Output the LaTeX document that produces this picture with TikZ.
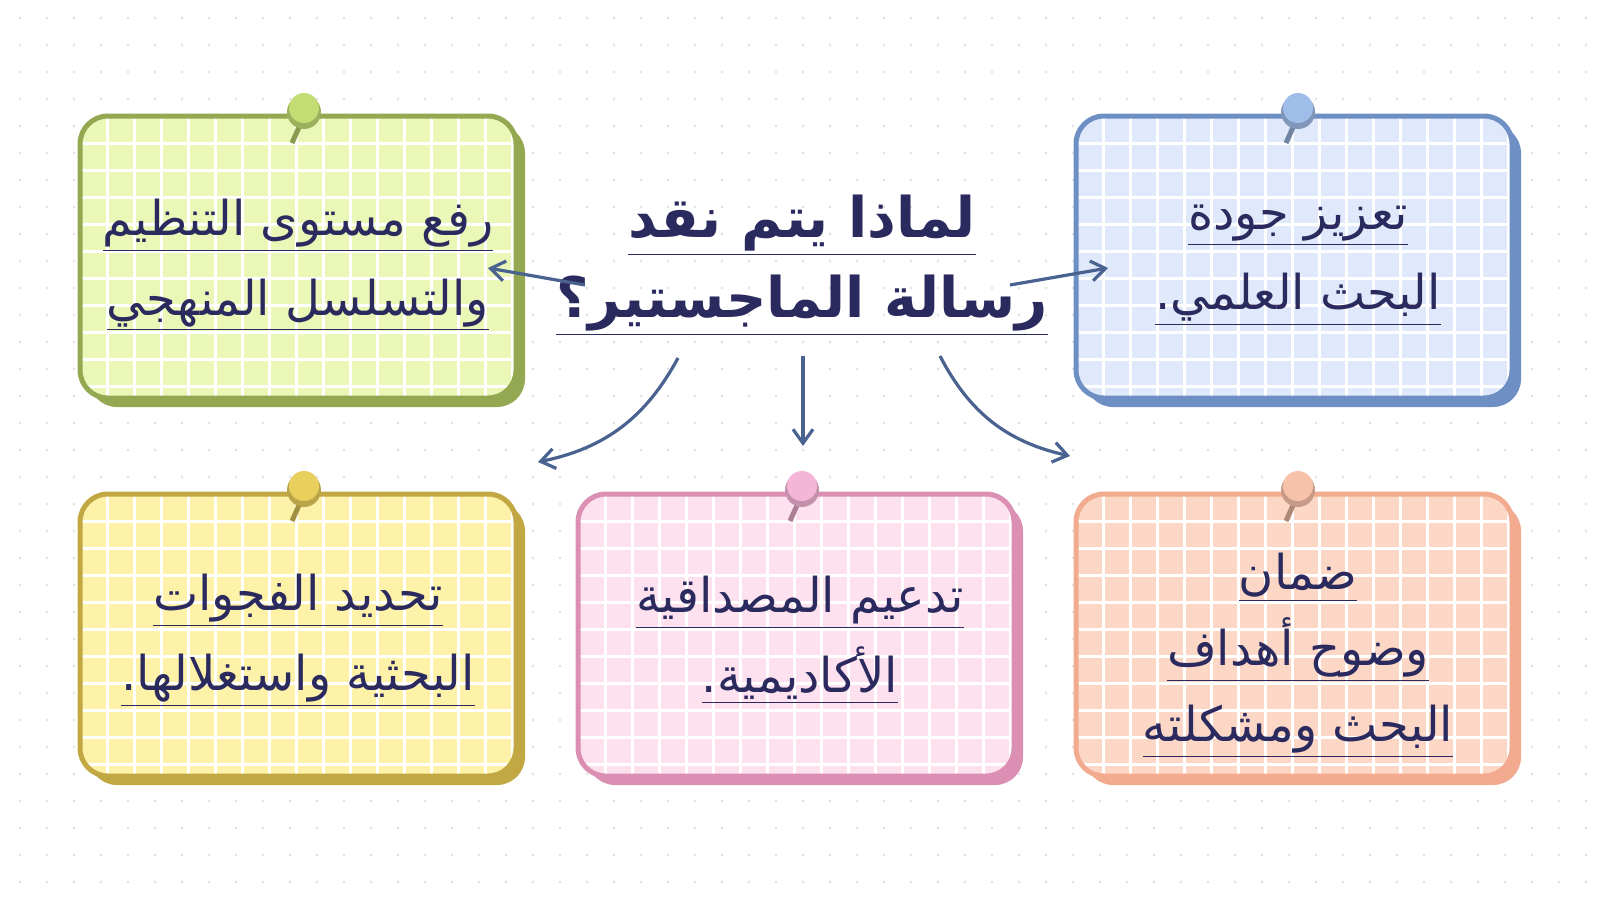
\documentclass[tikz,border=0pt]{standalone}
\usepackage{fontspec}
\newfontfamily\arabicfont[Script=Arabic]{DejaVu Sans}
\TeXXeTstate=1
\newcommand\arl[1]{\underline{\hbox{\beginR#1\endR}}}
\definecolor{ink}{HTML}{2B2A5E}
\definecolor{arr}{HTML}{4A6290}
\definecolor{gF}{HTML}{EAF7B6}\definecolor{gB}{HTML}{93A850}\definecolor{gP}{HTML}{C4DC74}
\definecolor{bF}{HTML}{DFE9FB}\definecolor{bB}{HTML}{6E8FC4}\definecolor{bP}{HTML}{A0BDE9}
\definecolor{yF}{HTML}{FDF2A8}\definecolor{yB}{HTML}{C1A843}\definecolor{yP}{HTML}{E8CF5E}
\definecolor{pF}{HTML}{FDE1EF}\definecolor{pB}{HTML}{DB90B3}\definecolor{pP}{HTML}{F5B5D6}
\definecolor{oF}{HTML}{FDD7C5}\definecolor{oB}{HTML}{F3AB8F}\definecolor{oP}{HTML}{F7C2AA}
\newcommand\mycard[7]{%
 \fill[#6,rounded corners=14] (#1+9,#2+9) rectangle (#3+9,#4+9);
 \begin{scope}
 \clip[rounded corners=14] (#1,#2) rectangle (#3,#4);
 \fill[#5] (#1,#2) rectangle (#3,#4);
 \foreach \k in {0,...,20}{\draw[white,line width=1.5] (#1+27*\k,#2) -- (#1+27*\k,#4);
   \draw[white,line width=1.5] (#1,#2+27*\k) -- (#3,#2+27*\k);}
 \end{scope}
 \draw[#6,line width=2.5,rounded corners=14] (#1,#2) rectangle (#3,#4);
}
\newcommand\mypin[3]{%
 \draw[#3!70!black,line width=2.5] (#1,#2+8) -- (#1-12,#2+35);
 \fill[#3!80!black] (#1,#2+4) circle (17);
 \fill[#3] (#1,#2) circle (15);
}
\tikzset{lbl/.style={text=ink,align=center,font=\arabicfont\fontsize{24}{40}\selectfont},
 con/.style={arr,line width=1.6,-{Straight Barb[length=7pt,width=10pt]}}}
\usetikzlibrary{arrows.meta}
\begin{document}
\begin{tikzpicture}[x=0.5pt,y=-0.5pt]
\fill[white] (0,0) rectangle (1600,900);
\useasboundingbox (0,0) rectangle (1600,900);
\foreach \i in {0,...,58}{\foreach \j in {0,...,32}{\fill[black!12] (27*\i+20,27*\j+18) circle (1.3);}}
\mycard{80}{116}{516}{398}{gF}{gB}{}
\mycard{1076}{116}{1512}{398}{bF}{bB}{}
\mycard{80}{494}{516}{776}{yF}{yB}{}
\mycard{578}{494}{1014}{776}{pF}{pB}{}
\mycard{1076}{494}{1512}{776}{oF}{oB}{}
\mypin{304}{108}{gP}
\mypin{1298}{108}{bP}
\mypin{304}{486}{yP}
\mypin{802}{486}{pP}
\mypin{1298}{486}{oP}
\node[lbl] (g) at (298,265) {\arl{رفع مستوى التنظيم}\\\arl{والتسلسل المنهجي}};
\node[lbl] (b) at (1298,265) {\arl{تعزيز جودة}\\\arl{البحث العلمي.}};
\node[lbl] (y) at (298,640) {\arl{تحديد الفجوات}\\\arl{البحثية واستغلالها.}};
\node[lbl] (p) at (800,640) {\arl{تدعيم المصداقية}\\\arl{الأكاديمية.}};
\node[lbl,font=\arabicfont\fontsize{24}{38}\selectfont] (o) at (1298,655) {\arl{ضمان}\\\arl{وضوح أهداف}\\\arl{البحث ومشكلته}};
\node[text=ink,align=center,font=\arabicfont\bfseries\fontsize{28}{40}\selectfont] (t) at (802,265) {\arl{لماذا يتم نقد}\\\arl{رسالة الماجستير؟}};
\coordinate (a1) at (585,285); \coordinate (e1) at (488,268);
\coordinate (a2) at (1010,285); \coordinate (e2) at (1108,268);
\coordinate (a3) at (678,358); \coordinate (e3) at (538,462);
\coordinate (a4) at (803,356); \coordinate (e4) at (803,446);
\coordinate (a5) at (940,356); \coordinate (e5) at (1070,456);
\draw[con] (a1) -- (e1);
\draw[con] (a2) -- (e2);
\draw[con] (a3) to[bend left=25] (e3);
\draw[con] (a4) -- (e4);
\draw[con] (a5) to[bend right=25] (e5);
\end{tikzpicture}
\end{document}
